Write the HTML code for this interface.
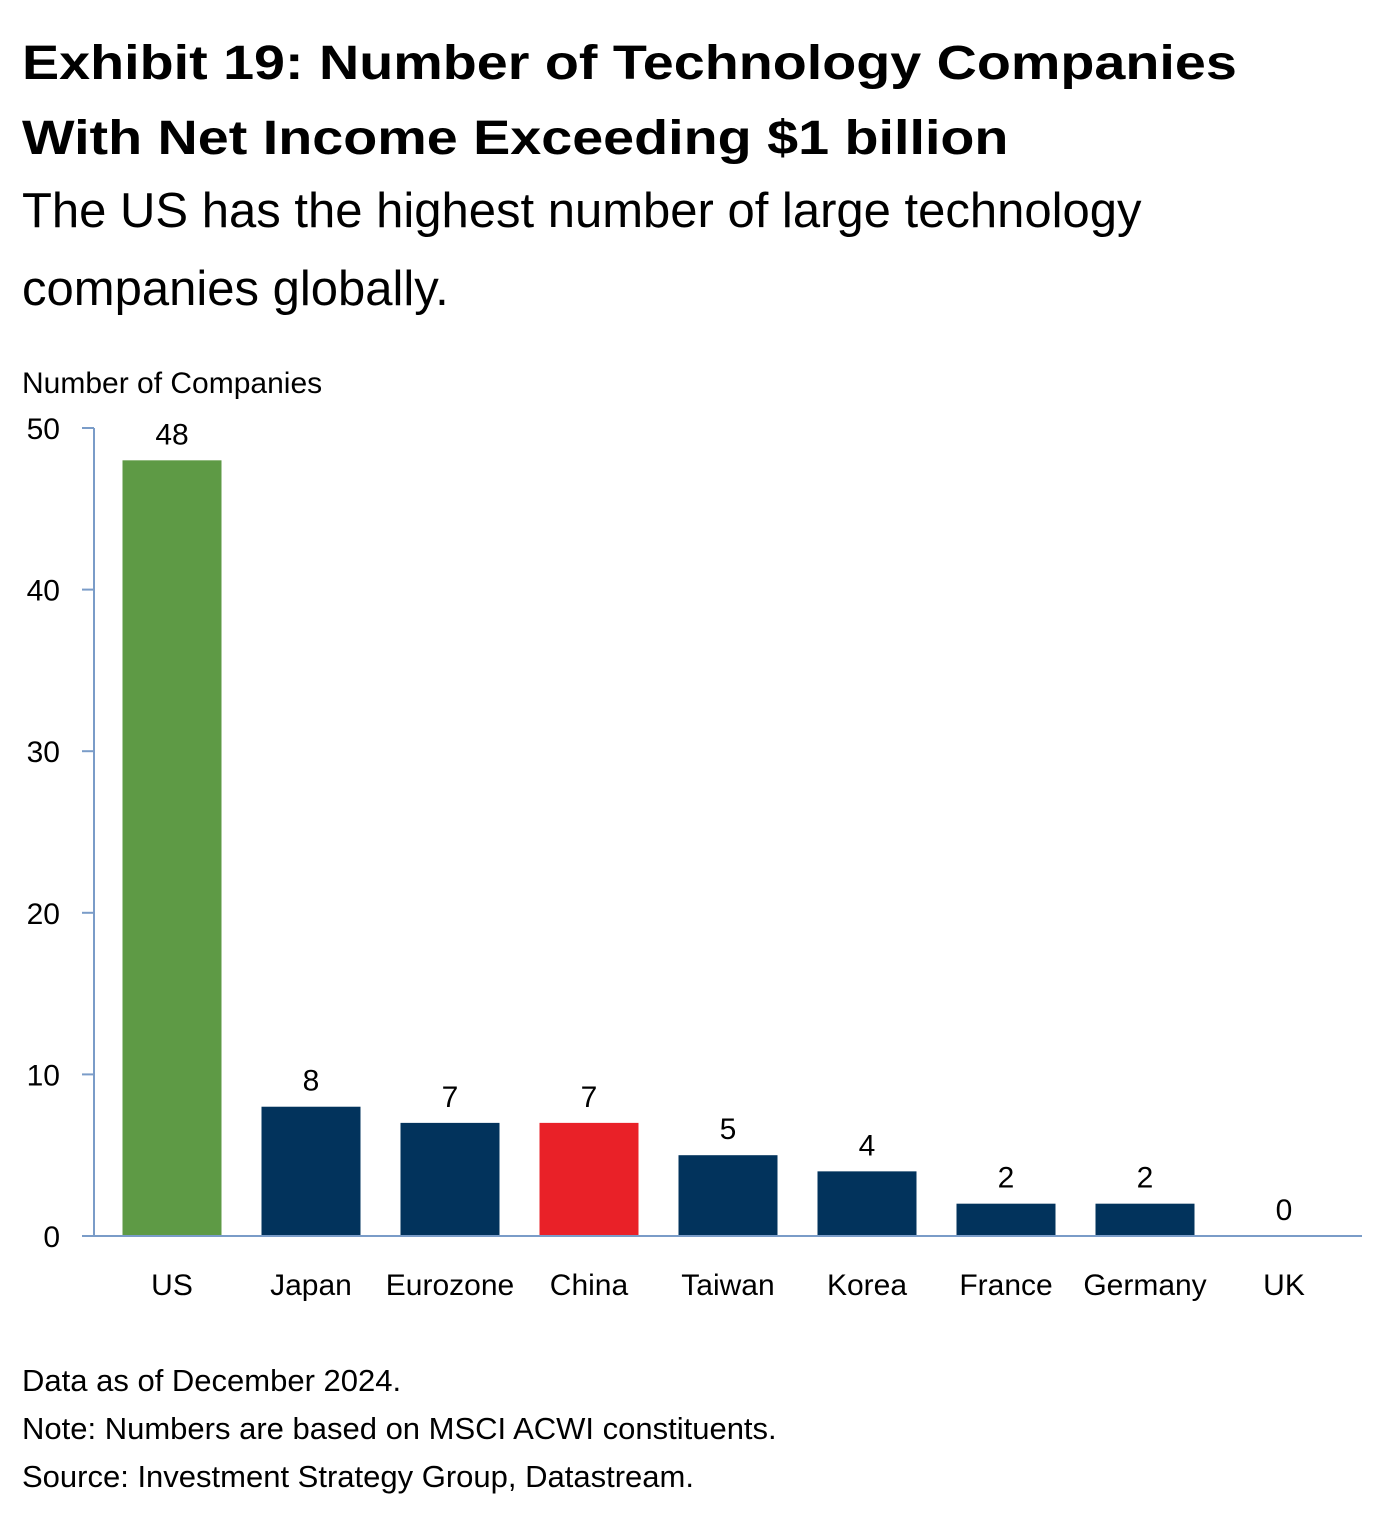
<!DOCTYPE html>
<html><head><meta charset="utf-8">
<style>
body{margin:0;background:#fff;width:1388px;height:1526px;overflow:hidden;font-family:"Liberation Sans",sans-serif;color:#000}
.t{position:absolute;left:22px;font-family:"Liberation Sans",sans-serif;font-weight:bold;font-size:48px;white-space:nowrap;transform-origin:0 0;transform:scaleX(1.16)}
.s{position:absolute;left:22px;font-size:49px;white-space:nowrap}
.f{position:absolute;left:22px;font-size:31px;white-space:nowrap}
</style></head><body>
<div class="t" style="top:36px">Exhibit 19: Number of Technology Companies</div>
<div class="t" style="top:111px">With Net Income Exceeding $1 billion</div>
<div class="s" style="top:183px">The US has the highest number of large technology</div>
<div class="s" style="top:261px">companies globally.</div>
<svg id="chart" width="1388" height="1526" style="position:absolute;left:0;top:0" font-family="'Liberation Sans',sans-serif"></svg>
<div class="f" style="top:1363px">Data as of December 2024.</div>
<div class="f" style="top:1411px">Note: Numbers are based on MSCI ACWI constituents.</div>
<div class="f" style="top:1459px">Source: Investment Strategy Group, Datastream.</div>
<script>
const categories=["US","Japan","Eurozone","China","Taiwan","Korea","France","Germany","UK"];
const values=[48,8,7,7,5,4,2,2,0];
const colors=["#5E9A45","#02335C","#02335C","#E92128","#02335C","#02335C","#02335C","#02335C","#02335C"];
const yTicks=[0,10,20,30,40,50];
const svg=document.getElementById('chart');
const NS='http://www.w3.org/2000/svg';
const x0=94,x1=1362,y0=1236,y1=428,yMax=50;
const step=139,firstC=172,bw=99;
function y(v){return y0-(v/yMax)*(y0-y1);}
function xc(i){return firstC+i*step;}
function mk(t,a){const e=document.createElementNS(NS,t);for(const k in a)e.setAttribute(k,a[k]);svg.appendChild(e);return e;}
let e=mk('text',{x:22,y:393,'font-size':30});e.textContent='Number of Companies';


values.forEach((v,i)=>{
  const r=mk('rect',{x:xc(i)-bw/2,y:y(v),width:bw,height:y0-y(v),fill:colors[i]});
  
  
  const t=mk('text',{x:xc(i),y:y(v)-16,'font-size':30,'text-anchor':'middle'});t.textContent=v;
  
  
  const c=mk('text',{x:xc(i),y:y0+59,'font-size':30,'text-anchor':'middle'});c.textContent=categories[i];
  
  
});
yTicks.forEach(v=>{
  const l=mk('line',{x1:82,x2:x0,y1:y(v),y2:y(v),stroke:'#7A9CC8','stroke-width':2});
  
  
  const t=mk('text',{x:60,y:y(v)+11,'font-size':30,'text-anchor':'end'});t.textContent=v;
  
  
});
let a=mk('line',{x1:x0,x2:x0,y1:y1,y2:y0,stroke:'#7A9CC8','stroke-width':2});


a=mk('line',{x1:x0,x2:x1,y1:y0,y2:y0,stroke:'#7A9CC8','stroke-width':2});


</script>
</body></html>
